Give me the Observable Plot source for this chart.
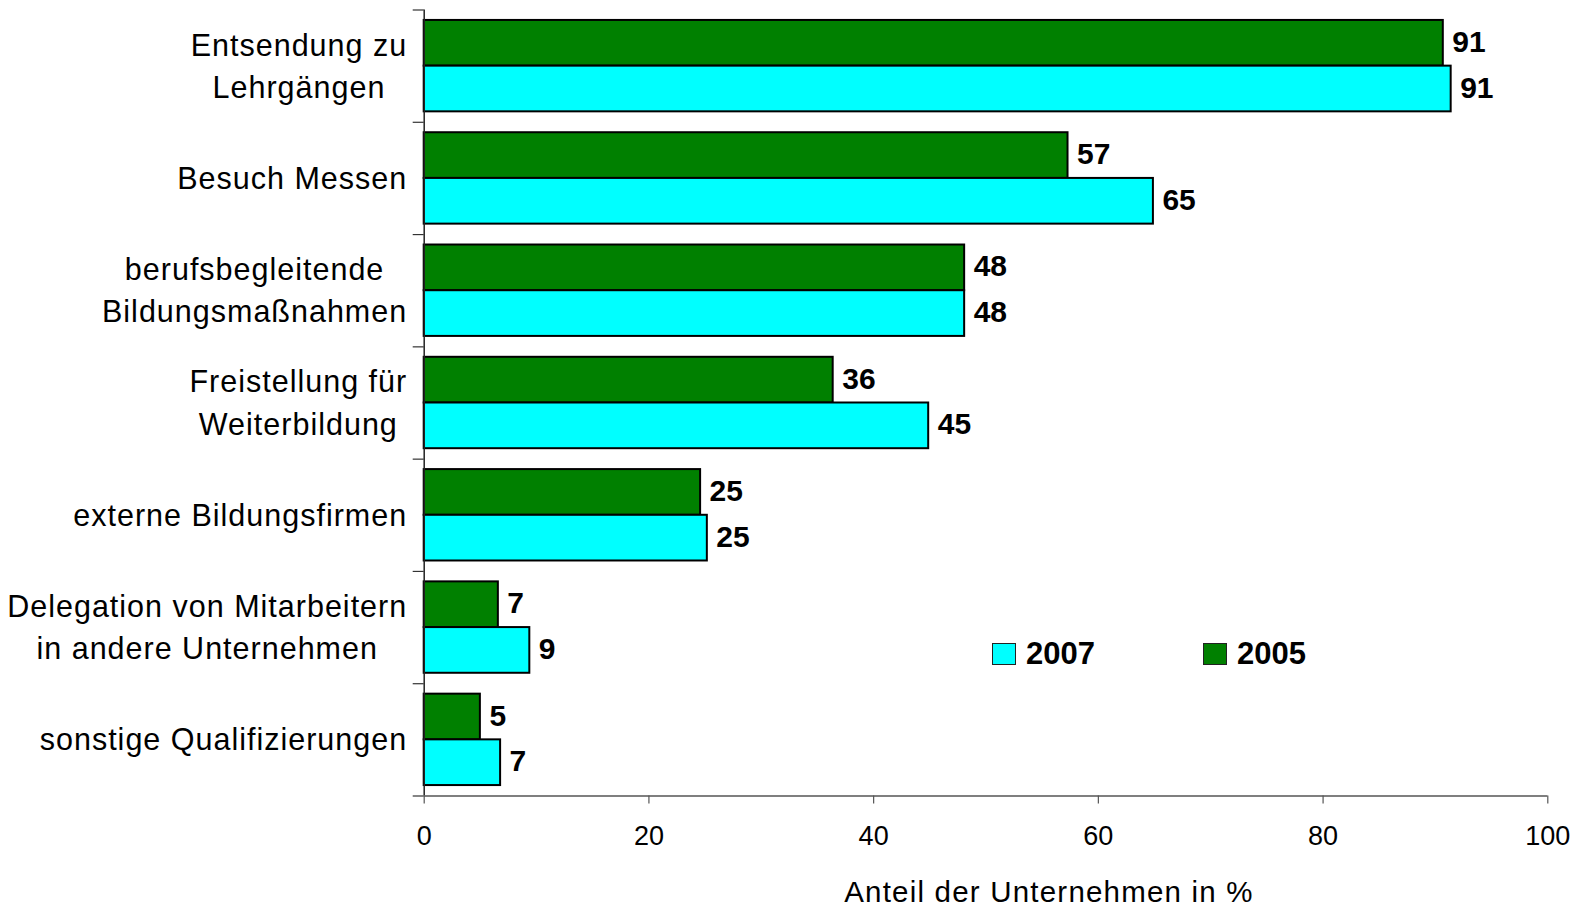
<!DOCTYPE html>
<html>
<head>
<meta charset="utf-8">
<script src="https://cdn.jsdelivr.net/npm/d3@7"></script>
<script src="https://cdn.jsdelivr.net/npm/@observablehq/plot@0.6"></script>
<style>
  html, body { margin: 0; padding: 0; background: #fff; }
  #wrap { position: relative; width: 1577px; height: 909px; overflow: hidden; }
  .lg-item { position: absolute; top: 643px; height: 22px; display: flex; align-items: center; }
  .lg-swatch { width: 24px; height: 22px; box-sizing: border-box; border: 1.5px solid #222; }
  .lg-text { margin-left: 10px; font: bold 31px 'Liberation Sans', Arial, sans-serif; line-height: 22px; color: #000; }
</style>
</head>
<body>
<div id="wrap"></div>
<script>
// ---- data ----
const categories = [
  "Entsendung zu\nLehrgängen",
  "Besuch Messen",
  "berufsbegleitende\nBildungsmaßnahmen",
  "Freistellung für\nWeiterbildung",
  "externe Bildungsfirmen",
  "Delegation von Mitarbeitern\nin andere Unternehmen",
  "sonstige Qualifizierungen"
];
const years = ["2005", "2007"];
const values2005 = [90.7, 57.3, 48.1, 36.4, 24.6, 6.6, 5.0];
const values2007 = [91.4, 64.9, 48.1, 44.9, 25.2, 9.4, 6.8];
const labels2005 = ["91", "57", "48", "36", "25", "7", "5"];
const labels2007 = ["91", "65", "48", "45", "25", "9", "7"];
const legendOrder = ["2007", "2005"];
const xTicks = [0, 20, 40, 60, 80, 100];
const xTitle = "Anteil der Unternehmen in %";

// ---- styling ----
const FONT = "'Liberation Sans', Arial, sans-serif";
const colorRange = ["#008000", "#00FFFF"];
const pad = 0.093;               // gap at each end of a category band
const half = (1 - 2 * pad) / 2;  // thickness of one bar, in band units

// table built from the arrays
const series = [values2005, values2007];
const seriesLabels = [labels2005, labels2007];
const rows = [];
categories.forEach((c, i) => {
  years.forEach((yr, j) => {
    const y1 = i + pad + j * half;
    rows.push({cat: c, year: yr, value: series[j][i], label: seriesLabels[j][i], y1, y2: y1 + half});
  });
});

const chart = Plot.plot({
  width: 1577,
  height: 909,
  marginLeft: 423.7,
  marginRight: 29.7,
  marginTop: 9.5,
  marginBottom: 113.5,
  style: {fontFamily: FONT, background: "#fff", color: "#000", overflow: "visible"},
  x: {domain: [0, 100]},
  y: {domain: [0, categories.length], reverse: true},
  color: {domain: years, range: colorRange},
  marks: [
    Plot.rect(rows, {x1: 0, x2: "value", y1: "y1", y2: "y2", fill: "year", stroke: "#000", strokeWidth: 2}),
    Plot.ruleX([0], {stroke: "#222", strokeWidth: 1.5}),
    Plot.ruleY([categories.length], {stroke: "#555", strokeWidth: 1.5}),
    Plot.axisY(d3.range(categories.length + 1), {tickSize: 11, tickFormat: () => "", stroke: "#333", strokeWidth: 1.2}),
    Plot.axisX(xTicks, {tickSize: 8, tickPadding: 21.5, fontSize: 27, label: null, stroke: "#555", strokeWidth: 1.2, tickFormat: d => String(d)}),
    Plot.text(categories, {y: (d, i) => i + 0.5, frameAnchor: "left", dx: -17, dy: -3, textAnchor: "end", lineAnchor: "middle", fontSize: 30.5, lineHeight: 1.38, fill: "#000"}),
    Plot.text(rows, {x: "value", y: d => (d.y1 + d.y2) / 2, text: "label", dx: 9, dy: -1, textAnchor: "start", lineAnchor: "middle", fontWeight: "bold", fontSize: 30, fill: "#000"}),
    Plot.text([xTitle], {frameAnchor: "bottom", dx: 63, dy: 97, fontSize: 29.5, lineAnchor: "middle", fill: "#000"})
  ]
});

const wrap = document.getElementById("wrap");
wrap.appendChild(chart);

// centre the lines of multi-line category labels (Excel style), keep right edge of widest line
const catKeys = new Set(categories.map(c => c.replace(/\n/g, "")));
chart.querySelectorAll("text").forEach(t => {
  const key = t.textContent;
  if (catKeys.has(key)) {
    t.style.letterSpacing = "1px";
    const tspans = t.querySelectorAll("tspan");
    if (tspans.length > 1) {
      const w = t.getBBox().width;
      t.setAttribute("text-anchor", "middle");
      tspans.forEach(s => {
        const x0 = parseFloat(s.getAttribute("x") || "0");
        s.setAttribute("x", x0 - w / 2);
      });
    }
  } else if (key === xTitle) {
    t.style.letterSpacing = "1.2px";
  }
});

// legend inside the plot area
const colorOf = d3.scaleOrdinal(years, colorRange);
legendOrder.forEach((yr, k) => {
  const item = document.createElement("div");
  item.className = "lg-item";
  item.style.left = (992 + k * 211) + "px";
  const sw = document.createElement("div");
  sw.className = "lg-swatch";
  sw.style.background = colorOf(yr);
  const tx = document.createElement("span");
  tx.className = "lg-text";
  tx.textContent = yr;
  item.appendChild(sw);
  item.appendChild(tx);
  wrap.appendChild(item);
});
</script>
</body>
</html>
